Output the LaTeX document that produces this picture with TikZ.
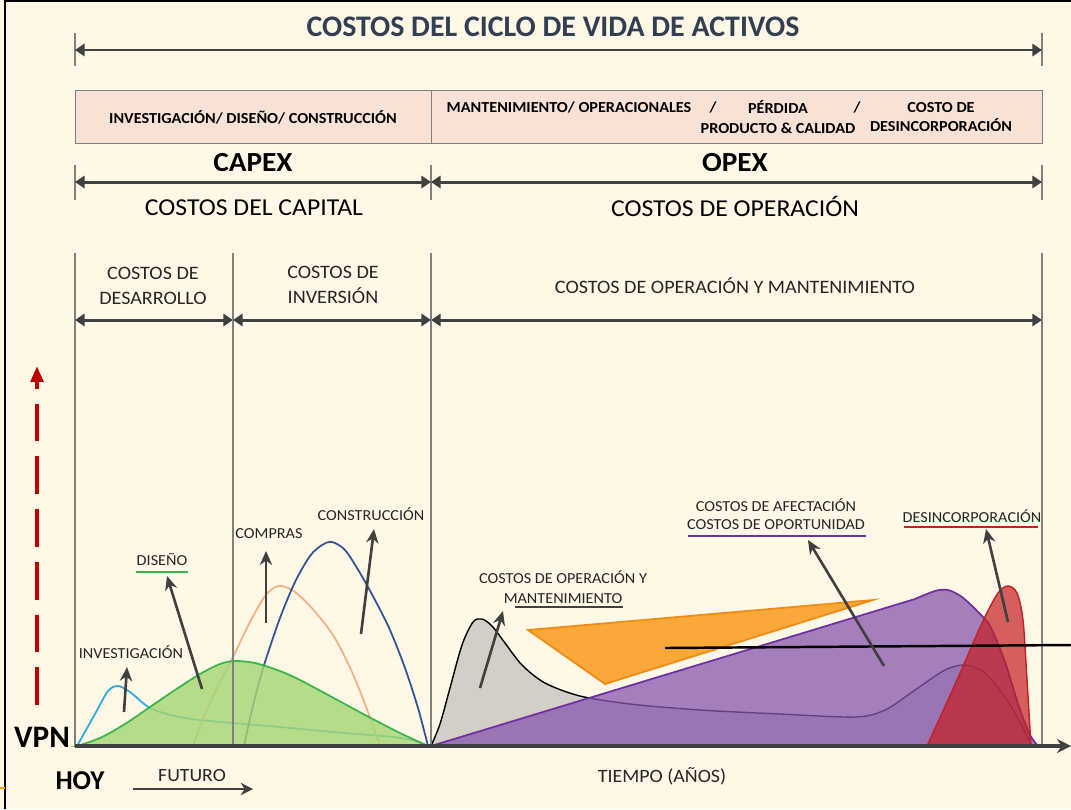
\documentclass[tikz,border=0pt]{standalone}
\usepackage{fontspec}
\setmainfont{Carlito}[FakeStretch=1.06]
\newfontfamily\plainfont{Carlito}
\usetikzlibrary{arrows.meta}
% colours of the slide
\definecolor{cream}{RGB}{255,248,230}
\definecolor{titleblue}{RGB}{50,62,82}
\definecolor{pinkbox}{RGB}{248,226,214}
\definecolor{arrowgray}{RGB}{64,64,64}
\definecolor{vpnred}{RGB}{192,0,0}
\definecolor{invblue}{RGB}{41,171,226}
\definecolor{disgreen}{RGB}{57,181,74}
\definecolor{disfill}{RGB}{165,214,114}
\definecolor{compeach}{RGB}{244,177,131}
\definecolor{consblue}{RGB}{47,85,151}
\definecolor{omfill}{RGB}{210,207,198}
\definecolor{afpurple}{RGB}{112,48,160}
\definecolor{affill}{RGB}{136,87,173}
\definecolor{opfill}{RGB}{250,168,58}
\definecolor{opedge}{RGB}{240,140,20}
\definecolor{desred}{RGB}{196,31,36}
\tikzset{
  dimarrow/.style={draw=arrowgray, line width=1.7pt,
    {Triangle[length=5.5pt,width=7pt]}-{Triangle[length=5.5pt,width=7pt]}},
  bandline/.style={draw=gray, line width=0.6pt},
  callout/.style={draw=arrowgray, line width=1.5pt, -{Stealth[length=8pt,width=7pt]}},
  chartlbl/.style={font=\fontsize{8.7}{11}\selectfont, text=black!85, inner sep=1pt, align=center},
  bandlbl/.style={font=\fontsize{10.8}{14}\selectfont, text=black!85, inner sep=1pt, align=center},
  boxlbl/.style={font=\bfseries\fontsize{8.7}{11.3}\selectfont, inner sep=1pt, align=center},
  underl/.style={line width=1.4pt},
}
\begin{document}
\begin{tikzpicture}[x=0.02cm, y=-0.02cm]
\useasboundingbox[fill=cream] (0,0) rectangle (1071,809);
\draw[black, line width=0.8pt] (5,809) -- (5,1) -- (1071,1);
\draw[orange!70!yellow, line width=1.5pt] (0,788) -- (5,788);

% title and whole life span
\node[font=\plainfont\bfseries\fontsize{17}{20}\selectfont, text=titleblue] (title) at (553,27) {COSTOS DEL CICLO DE VIDA DE ACTIVOS};
\draw[bandline] (75,33) -- (75,66);
\draw[bandline] (1042,33) -- (1042,66);
\coordinate (lifeL) at (75,50);
\coordinate (lifeR) at (1042,50);
\draw[dimarrow] (lifeL) -- (lifeR);

% pink box
\draw[gray, fill=pinkbox] (75,90) rectangle (1042,143);
\draw[gray] (431,90) -- (431,143);
\node[boxlbl] (capexbox) at (253,117) {INVESTIGACIÓN/ DISEÑO/ CONSTRUCCIÓN};
\node[boxlbl] (mantbox) at (569,107) {MANTENIMIENTO/ OPERACIONALES};
\node[boxlbl] (slashA) at (713,107) {/};
\node[boxlbl] (perdbox) at (778,117) {PÉRDIDA\\PRODUCTO \& CALIDAD};
\node[boxlbl] (slashB) at (857,107) {/};
\node[boxlbl] (desbox) at (941,117) {COSTO DE\\DESINCORPORACIÓN};

% capex / opex
\node[font=\bfseries\fontsize{15.7}{18}\selectfont] (capex) at (253,163) {CAPEX};
\node[font=\bfseries\fontsize{15.7}{18}\selectfont] (opex) at (735,163) {OPEX};
\draw[bandline] (75,165) -- (75,200);
\draw[bandline] (431,165) -- (431,200);
\draw[bandline] (1042,165) -- (1042,200);
\coordinate (capL) at (75,182);
\coordinate (capR) at (431,182);
\coordinate (opR) at (1042,182);
\draw[dimarrow] (capL) -- (capR);
\draw[dimarrow] (capR) -- (opR);
\node[font=\fontsize{13.8}{16}\selectfont] (capital) at (254,208) {COSTOS DEL CAPITAL};
\node[font=\fontsize{13.8}{16}\selectfont] (operacion) at (735,206) {COSTOS DE OPERACIÓN};

% cost bands
\node[bandlbl] (desarrollo) at (153,286) {COSTOS DE\\DESARROLLO};
\node[bandlbl] (inversion) at (333,285) {COSTOS DE\\INVERSIÓN};
\node[bandlbl] (omband) at (735,286) {COSTOS DE OPERACIÓN Y MANTENIMIENTO};
\coordinate (bandA) at (75,320);
\coordinate (bandB) at (233,320);
\coordinate (bandC) at (431,320);
\coordinate (bandD) at (1042,320);
\draw[dimarrow] (bandA) -- (bandB);
\draw[dimarrow] (bandB) -- (bandC);
\draw[dimarrow] (bandC) -- (bandD);

% capex curves
\draw[invblue, line width=1pt] plot[smooth] coordinates {(77,746) (95,714) (108,691) (118,686) (130,692) (150,708) (175,716) (200,720) (233,723) (280,727) (333,732) (393,737) (415,741) (428,746)};
\draw[compeach, line width=1pt] plot[smooth] coordinates {(193,746) (205,714) (218,686) (233,657) (250,622) (265,596) (278,586) (292,590) (310,606) (333,635) (352,672) (368,712) (380,746)};
\draw[consblue, line width=1pt] plot[smooth] coordinates {(244,746) (250,718) (257,690) (265,662) (280,618) (295,582) (310,556) (322,545) (332,542) (345,550) (360,573) (375,600) (390,630) (405,668) (418,708) (428,746)};
\draw[disgreen, line width=1pt, fill=disfill, fill opacity=0.8] plot[smooth] coordinates {(77,746) (100,738) (125,724) (150,707) (175,690) (200,674) (220,664) (235,661) (255,663) (280,671) (300,680) (330,696) (367,716) (400,733) (428,746)} -- cycle;

% opex curves
\draw[black, line width=0.8pt, fill=omfill] plot[smooth] coordinates {(431,746) (440,724) (450,688) (462,645) (473,622) (482,619) (492,626) (505,643) (522,665) (545,683) (580,696) (630,704) (700,710) (780,714) (855,717) (885,710) (915,690) (945,670) (966,665) (985,673) (1005,697) (1020,722) (1032,746)} -- cycle;
\draw[afpurple, line width=1pt, fill=affill, fill opacity=0.75] (431,746) -- plot[smooth] coordinates {(915,599) (935,591) (948,590) (962,597) (978,612) (990,626) (1005,662) (1019,707) (1030,735) (1038,746)} -- cycle;
\draw[opedge, line width=1pt, fill=opfill] (528,630) -- (873,600) -- (605,684) -- cycle;
\draw[desred, line width=0.8pt, fill=desred, fill opacity=0.7] plot[smooth] coordinates {(927,746) (957,680) (982,623) (998,593) (1008,586) (1017,593) (1023,620) (1027,680) (1031,746)} -- cycle;

% band lines
\draw[bandline] (75,253) -- (75,746);
\draw[bandline] (233,253) -- (233,746);
\draw[bandline] (431,253) -- (431,746);
\draw[bandline] (1042,253) -- (1042,746);

% axes
\coordinate (origin) at (75,746);
\coordinate (xend) at (1071,746);
\draw[arrowgray, line width=1.8pt, -{Stealth[length=8pt,width=8pt]}] (origin) -- (xend);
\coordinate (vpnlow) at (37,705);
\coordinate (vpnhigh) at (37,366);
\draw[vpnred, line width=2.2pt, dash pattern=on 21.5pt off 8.5pt, -{Triangle[length=9pt,width=7pt]}] (vpnlow) -- (vpnhigh);
\node[font=\plainfont\bfseries\fontsize{17.8}{20}\selectfont] (vpn) at (42,737) {VPN};
\node[font=\plainfont\bfseries\fontsize{15.5}{18}\selectfont] (hoy) at (80,781) {HOY};
\node[font=\fontsize{10.6}{12}\selectfont, text=black!85] (futuro) at (192,776) {FUTURO};
\coordinate (futL) at (133,789);
\coordinate (futR) at (253,789);
\draw[arrowgray, line width=1.5pt, -{Stealth[length=7pt,width=7pt]}] (futL) -- (futR);
\node[font=\fontsize{10.7}{12}\selectfont, text=black!85] (tiempo) at (662,776) {TIEMPO (AÑOS)};

% pointer line
\coordinate (lineL) at (665,648);
\coordinate (lineR) at (1071,645);
\draw[black, line width=1.4pt] (lineL) -- (lineR);

% callouts
\node[chartlbl] (invlbl) at (131,652) {INVESTIGACIÓN};
\node[chartlbl] (dislbl) at (162,559) {DISEÑO};
\node[chartlbl] (complbl) at (269,534) {COMPRAS};
\node[chartlbl] (conslbl) at (371,514) {CONSTRUCCIÓN};
\node[chartlbl] (omlbl) at (563,587) {COSTOS DE OPERACIÓN Y\\MANTENIMIENTO};
\node[chartlbl, font=\fontsize{8.7}{10.2}\selectfont] (aflbl) at (776,514) {COSTOS DE AFECTACIÓN\\COSTOS DE OPORTUNIDAD};
\node[chartlbl] (deslbl) at (972,516) {DESINCORPORACIÓN};
\draw[disgreen, underl] (136,572) -- (188,572);
\draw[arrowgray, underl] (515,607) -- (623,607);
\draw[afpurple, underl] (688,536) -- (866,536);
\draw[desred, underl] (904,527) -- (1038,527);

\coordinate (invtail) at (124,712);
\coordinate (invtip) at (127,667);
\coordinate (distail) at (202,689);
\coordinate (distip) at (167,576);
\coordinate (comptail) at (266,623);
\coordinate (comptip) at (266,551);
\coordinate (constail) at (361,634);
\coordinate (constip) at (374,529);
\coordinate (omtail) at (480,688);
\coordinate (omtip) at (503,611);
\coordinate (aftail) at (884,666);
\coordinate (aftip) at (808,540);
\coordinate (destail) at (1008,622);
\coordinate (destip) at (986,529);
\draw[callout] (invtail) -- (invtip);
\draw[callout] (distail) -- (distip);
\draw[callout] (comptail) -- (comptip);
\draw[callout] (constail) -- (constip);
\draw[callout] (omtail) -- (omtip);
\draw[callout] (aftail) -- (aftip);
\draw[callout] (destail) -- (destip);
\end{tikzpicture}
\end{document}
